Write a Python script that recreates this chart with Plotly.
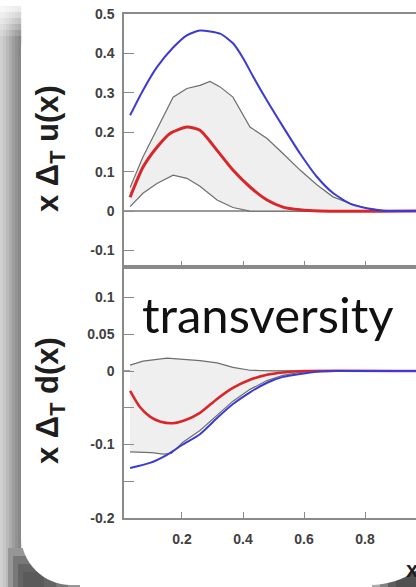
import plotly.graph_objects as go

W, H = 416, 587

# ---- x*Delta_T u(x) ----
u_band_upper_x = [0.03, 0.072, 0.171, 0.216, 0.259, 0.292, 0.325, 0.367, 0.423, 0.479, 0.531,
                  0.587, 0.643, 0.695, 0.751, 0.807, 0.859, 0.967]
u_band_upper_y = [0.060, 0.137, 0.289, 0.311, 0.319, 0.329, 0.315, 0.289, 0.213, 0.184, 0.146,
                  0.104, 0.066, 0.036, 0.019, 0.007, 0.001, 0.0]
u_band_lower_x = [0.03, 0.072, 0.118, 0.171, 0.216, 0.259, 0.315, 0.367, 0.423, 0.967]
u_band_lower_y = [0.011, 0.045, 0.070, 0.091, 0.083, 0.063, 0.028, 0.009, 0.0, 0.0]

u_red_x = [0.03, 0.072, 0.118, 0.161, 0.216, 0.259, 0.315, 0.367, 0.423, 0.479, 0.531, 0.587,
           0.65, 0.967]
u_red_y = [0.035, 0.111, 0.162, 0.197, 0.213, 0.205, 0.154, 0.104, 0.061, 0.028, 0.010, 0.003,
           0.0, 0.0]

u_blue_x = [0.03, 0.072, 0.118, 0.171, 0.216, 0.259, 0.325, 0.368, 0.401, 0.434, 0.478, 0.532,
            0.587, 0.642, 0.696, 0.751, 0.806, 0.86, 0.9, 0.967]
u_blue_y = [0.243, 0.306, 0.365, 0.415, 0.446, 0.458, 0.450, 0.425, 0.387, 0.340, 0.281, 0.213,
            0.146, 0.087, 0.045, 0.019, 0.007, 0.001, 0.0, 0.0]

# ---- x*Delta_T d(x) ----
d_band_upper_x = [0.03, 0.072, 0.151, 0.236, 0.259, 0.315, 0.367, 0.423, 0.5, 0.967]
d_band_upper_y = [0.008, 0.0135, 0.0175, 0.015, 0.014, 0.011, 0.005, 0.001, 0.0, 0.0]
d_band_lower_x = [0.03, 0.1, 0.14, 0.165, 0.203, 0.259, 0.315, 0.367, 0.423, 0.479, 0.531,
                  0.587, 0.65, 0.967]
d_band_lower_y = [-0.110, -0.111, -0.113, -0.112, -0.097, -0.081, -0.060, -0.041, -0.025,
                  -0.013, -0.006, -0.002, 0.0, 0.0]

d_red_x = [0.03, 0.062, 0.095, 0.13, 0.17, 0.21, 0.259, 0.315, 0.367, 0.423, 0.479, 0.531,
           0.6, 0.967]
d_red_y = [-0.027, -0.049, -0.062, -0.069, -0.071, -0.067, -0.057, -0.038, -0.023, -0.012,
           -0.005, -0.002, 0.0, 0.0]

d_blue_x = [0.03, 0.095, 0.151, 0.203, 0.259, 0.315, 0.367, 0.423, 0.479, 0.531, 0.587, 0.643,
            0.7, 0.967]
d_blue_y = [-0.132, -0.125, -0.114, -0.100, -0.086, -0.064, -0.045, -0.029, -0.016, -0.008,
            -0.004, -0.001, 0.0, 0.0]

# ---- axis ticks ----
x_tickvals = [0.2, 0.4, 0.6, 0.8]
x_ticktext = ["0.2", "0.4", "0.6", "0.8"]
u_tickvals = [0.5, 0.4, 0.3, 0.2, 0.1, 0.0, -0.1]
u_ticktext = ["0.5", "0.4", "0.3", "0.2", "0.1", "0", "-0.1"]
d_tickvals = [0.1, 0.05, 0.0, -0.05, -0.1, -0.15, -0.2]
d_ticktext = ["0.1", "0.05", "0", "", "-0.1", "", "-0.2"]

BAND_FILL = "#efefef"
BAND_LINE = "#6e6e6e"
RED = "#d8262a"
BLUE = "#3b3bd2"
AXIS = "#8a8a8a"


def px(x):
    return x / W


def py(y):
    return 1 - y / H


def band(xu, yu, xl, yl, xa, ya):
    return go.Scatter(x=xu + xl[::-1], y=yu + yl[::-1], fill="toself", fillcolor=BAND_FILL,
                      mode="lines", line=dict(color=BAND_LINE, width=1.2),
                      xaxis=xa, yaxis=ya, hoverinfo="skip", showlegend=False)


def curve(x, y, color, width, xa, ya):
    return go.Scatter(x=x, y=y, mode="lines",
                      line=dict(color=color, width=width, shape="spline", smoothing=0.6),
                      xaxis=xa, yaxis=ya, showlegend=False)


fig = go.Figure()
fig.add_trace(band(u_band_upper_x, u_band_upper_y, u_band_lower_x, u_band_lower_y, "x", "y"))
fig.add_trace(curve(u_red_x, u_red_y, RED, 3, "x", "y"))
fig.add_trace(curve(u_blue_x, u_blue_y, BLUE, 2, "x", "y"))
fig.add_trace(band(d_band_upper_x, d_band_upper_y, d_band_lower_x, d_band_lower_y, "x2", "y2"))
fig.add_trace(curve(d_red_x, d_red_y, RED, 2.6, "x2", "y2"))
fig.add_trace(curve(d_blue_x, d_blue_y, BLUE, 2, "x2", "y2"))

# ---- slide card with shaded edge ----
shapes = []
left_greys = [208, 198, 186, 172, 158, 146, 136]
for i, g in enumerate(left_greys):
    shapes.append(dict(type="rect", xref="paper", yref="paper", layer="below",
                       x0=px(i * 3), x1=px(i * 3 + 3.2), y0=py(587), y1=py(0),
                       fillcolor=f"rgb({g},{g},{g})", line=dict(width=0)))
# fade of the edge towards the top
for i in range(6):
    shapes.append(dict(type="rect", xref="paper", yref="paper", layer="below",
                       x0=0, x1=px(90), y0=py(i * 6 + 6), y1=py(i * 6),
                       fillcolor="white", opacity=1 - i / 6, line=dict(width=0)))
# darker corner shadows at the bottom
for i, g in enumerate([150, 120, 100, 90]):
    shapes.append(dict(type="rect", xref="paper", yref="paper", layer="below",
                       x0=px(8 + i * 5), x1=px(80 - i * 12), y0=py(587), y1=py(548 + i * 8),
                       fillcolor=f"rgb({g},{g},{g})", line=dict(width=0)))
for i, g in enumerate([170, 130, 95, 80]):
    shapes.append(dict(type="rect", xref="paper", yref="paper", layer="below",
                       x0=px(372 + i * 8), x1=px(416), y0=py(587), y1=py(560 + i * 3),
                       fillcolor=f"rgb({g},{g},{g})", line=dict(width=0)))

k = 0.5523
L, T, R, B = 21.0, -2.0, 450.0, 585.0
r1, r2, r3 = 55.0, 50.0, 80.0


def P(x, y):
    return f"{px(x):.5f},{py(y):.5f}"


card = (f"M {P(L, T + r1)} "
        f"C {P(L, T + r1 - k * r1)} {P(L + r1 - k * r1, T)} {P(L + r1, T)} "
        f"L {P(R, T)} L {P(R, B - r3)} "
        f"C {P(R, B - r3 + k * r3)} {P(R - r3 + k * r3, B)} {P(R - r3, B)} "
        f"L {P(L + r2, B)} "
        f"C {P(L + r2 - k * r2, B)} {P(L, B - r2 + k * r2)} {P(L, B - r2)} Z")
shapes.append(dict(type="path", xref="paper", yref="paper", layer="below", path=card,
                   fillcolor="white", line=dict(width=0)))

tick_font = dict(family="Liberation Sans, Arial, sans-serif", size=14, color="#404040",
                 weight="bold")
x_dom = [px(124), 1.0]
x_range = [0.01, 0.967]

common_x = dict(range=x_range, domain=x_dom, tickmode="array", tickvals=x_tickvals,
                ticktext=x_ticktext, ticks="inside", ticklen=6, tickcolor=AXIS, tickwidth=1.2,
                showline=True, linecolor=AXIS, linewidth=1.5, mirror=True, showgrid=False,
                zeroline=False, tickfont=tick_font, ticklabelstandoff=7, automargin=False)
common_y = dict(ticks="inside", ticklen=10, tickcolor=AXIS, tickwidth=1.2, showline=True,
                linecolor=AXIS, linewidth=1.5, showgrid=False, zeroline=True,
                zerolinecolor="#9a9a9a", zerolinewidth=1.5, tickfont=tick_font,
                tickmode="array", ticklabelstandoff=5, automargin=False)

title_font = dict(family="Liberation Sans, Arial, sans-serif", size=31, color="#1e1e1e",
                  weight="bold")

fig.update_layout(
    width=W, height=H, margin=dict(l=0, r=0, t=0, b=0, pad=0, autoexpand=False),
    paper_bgcolor="white", plot_bgcolor="rgba(0,0,0,0)",
    shapes=shapes,
    xaxis=dict(anchor="y", showticklabels=False, **common_x),
    yaxis=dict(anchor="x", domain=[py(267), py(14)], range=[-0.142, 0.5],
               tickvals=u_tickvals, ticktext=u_ticktext, **common_y),
    xaxis2=dict(anchor="y2", showticklabels=True, **common_x),
    yaxis2=dict(anchor="x2", domain=[py(518), py(267)], range=[-0.2, 0.1415],
                tickvals=d_tickvals, ticktext=d_ticktext, **common_y),
    annotations=[
        dict(text="x Δ<sub>T</sub> u(x)", xref="paper", yref="paper", x=px(50), y=py(149),
             textangle=-90, showarrow=False, xanchor="center", yanchor="middle",
             font=title_font),
        dict(text="x Δ<sub>T</sub> d(x)", xref="paper", yref="paper", x=px(50), y=py(401),
             textangle=-90, showarrow=False, xanchor="center", yanchor="middle",
             font=title_font),
        dict(text="transversity", xref="paper", yref="paper", x=px(268), y=py(314),
             showarrow=False, xanchor="center", yanchor="middle",
             font=dict(family="Lato, sans-serif", size=49, color="#111111")),
        dict(text="x", xref="paper", yref="paper", x=px(404), y=py(569),
             showarrow=False, xanchor="left", yanchor="middle",
             font=dict(family="Liberation Sans, Arial, sans-serif", size=22, color="#1e1e1e",
                       weight="bold")),
    ],
)

fig.write_html("out.html")
